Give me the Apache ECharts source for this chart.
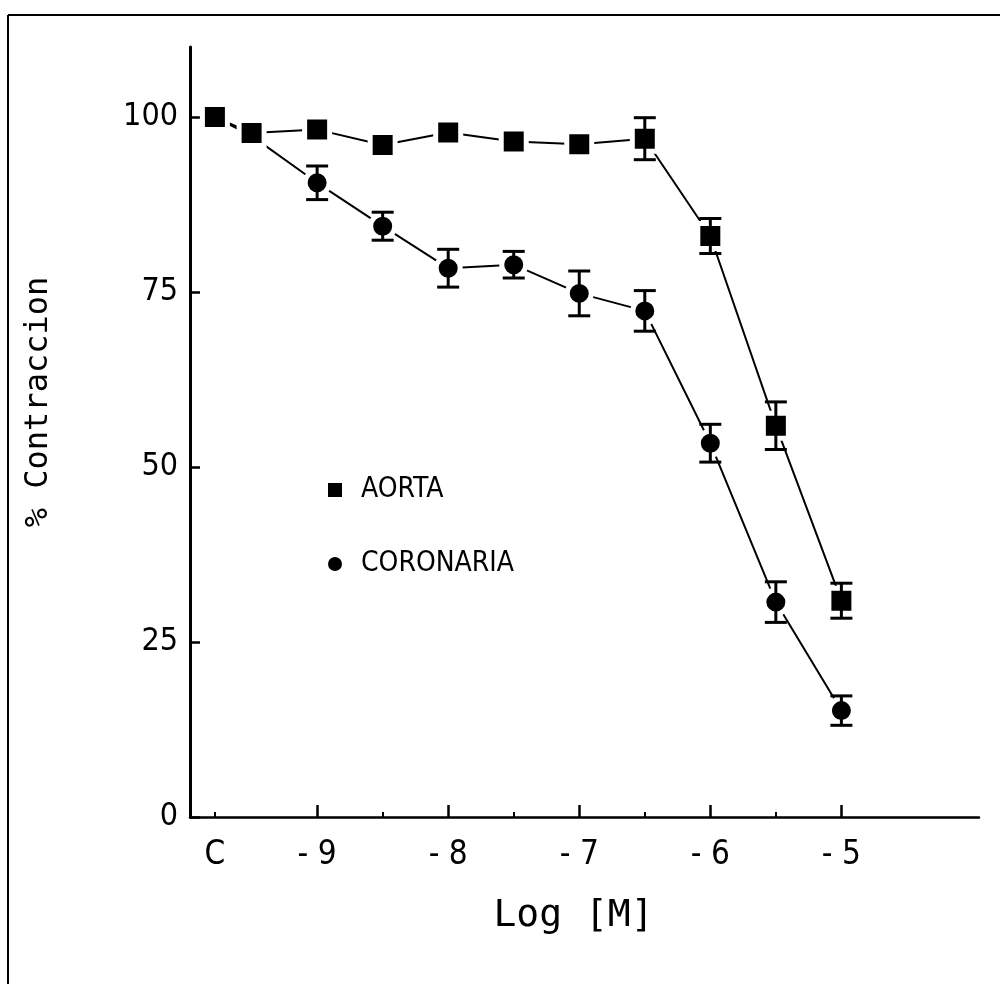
<!DOCTYPE html>
<html>
<head>
<meta charset="utf-8">
<script src="https://cdn.jsdelivr.net/npm/echarts@6/dist/echarts.min.js"></script>
<style>
  html, body { margin: 0; padding: 0; background: #fff; }
  #main { width: 1000px; height: 984px; }
</style>
</head>
<body>
<div id="main"></div>
<script>
// log dose (C = control, plotted left of -9)
const doseX = [-9.78, -9.5, -9, -8.5, -8, -7.5, -7, -6.5, -6, -5.5, -5]
const aorta = [100, 97.7, 98.2, 96.0, 97.8, 96.5, 96.1, 96.9, 83.0, 55.9, 30.9]
const aortaErr = [0, 0, 0, 0, 0, 0, 0, 3.0, 2.5, 3.4, 2.5]
const coronaria = [100, 97.3, 90.6, 84.4, 78.4, 78.9, 74.8, 72.3, 53.4, 30.7, 15.2]
const coronariaErr = [0, 0, 2.4, 2.0, 2.7, 1.9, 3.2, 2.9, 2.7, 2.9, 2.1]

const xLabelValues = [-9.78, -9, -8, -7, -6, -5]
const xTickLabels = ['C', '- 9', '- 8', '- 7', '- 6', '- 5']
const xMajorTicks = [-9, -8, -7, -6, -5]
const xMinorTicks = [-9.78, -8.5, -7.5, -6.5, -5.5]
const yTickValues = [0, 25, 50, 75, 100]

const narrow = "'Liberation Sans Narrow', 'DejaVu Sans Condensed', 'Liberation Sans', sans-serif"
const mono = "'DejaVu Sans Mono', 'Liberation Mono', monospace"

const pairs = (ys) => doseX.map((x, i) => [x, ys[i]])
const errRows = (ys, es) => doseX.map((x, i) => [x, ys[i] - es[i], ys[i] + es[i]]).filter((r, i) => es[i] > 0)

// vertical bar with caps, mean +/- err
function errorBar(params, api) {
  const x = api.value(0)
  const top = api.coord([x, api.value(2)])
  const bot = api.coord([x, api.value(1)])
  const w = 11
  const st = { stroke: '#000', lineWidth: 3 }
  return {
    type: 'group',
    children: [
      { type: 'line', shape: { x1: top[0], y1: top[1], x2: bot[0], y2: bot[1] }, style: st },
      { type: 'line', shape: { x1: top[0] - w, y1: top[1], x2: top[0] + w, y2: top[1] }, style: st },
      { type: 'line', shape: { x1: bot[0] - w, y1: bot[1], x2: bot[0] + w, y2: bot[1] }, style: st }
    ]
  }
}

const chart = echarts.init(document.getElementById('main'))
chart.setOption({
  animation: false,
  backgroundColor: '#fff',
  grid: { left: 190, right: 21, top: 47, bottom: 167, outerBoundsMode: 'none' },
  legend: {
    orient: 'vertical',
    left: 323,
    top: 471,
    itemGap: 46,
    itemWidth: 14,
    itemHeight: 14,
    itemStyle: { borderWidth: 0 },
    textStyle: { fontFamily: narrow, fontSize: 28, color: '#000', padding: [0, 0, 0, 14] },
    data: [
      { name: 'AORTA', icon: 'rect' },
      { name: 'CORONARIA', icon: 'circle' }
    ]
  },
  xAxis: [
    {
      type: 'value',
      min: -9.97,
      max: -3.95,
      name: 'Log [M]',
      nameLocation: 'middle',
      nameGap: 80,
      nameTextStyle: { fontFamily: mono, fontSize: 38, color: '#000', padding: [0, 22, 0, 0] },
      splitLine: { show: false },
      axisLine: { lineStyle: { color: '#000', width: 2.5 } },
      axisTick: { show: true, inside: true, length: 12, lineStyle: { color: '#000', width: 2.5 }, customValues: xMajorTicks },
      axisLabel: {
        margin: 22,
        fontFamily: narrow,
        fontSize: 33,
        color: '#000',
        customValues: xLabelValues,
        formatter: (v) => xTickLabels[xLabelValues.indexOf(v)]
      }
    },
    {
      // minor ticks only
      type: 'value',
      min: -9.97,
      max: -3.95,
      position: 'bottom',
      axisLine: { show: false },
      splitLine: { show: false },
      axisLabel: { show: false },
      axisTick: { show: true, inside: true, length: 5, lineStyle: { color: '#000', width: 2 }, customValues: xMinorTicks }
    }
  ],
  yAxis: {
    type: 'value',
    min: 0,
    max: 110,
    name: '% Contraccion',
    nameLocation: 'middle',
    nameRotate: 90,
    nameGap: 135,
    nameTextStyle: { fontFamily: mono, fontSize: 32, color: '#000', padding: [0, 0, 0, 60] },
    splitLine: { show: false },
    axisLine: { show: true, lineStyle: { color: '#000', width: 3 } },
    axisTick: { show: true, inside: true, length: 10, lineStyle: { color: '#000', width: 2.5 }, customValues: yTickValues },
    axisLabel: { margin: 12, fontFamily: narrow, fontSize: 32, color: '#000', customValues: yTickValues }
  },
  graphic: [
    { type: 'line', shape: { x1: 8, y1: 15, x2: 1000, y2: 15 }, style: { stroke: '#000', lineWidth: 2 } },
    { type: 'line', shape: { x1: 8, y1: 15, x2: 8, y2: 984 }, style: { stroke: '#000', lineWidth: 2 } }
  ],
  series: [
    {
      name: 'CORONARIA',
      type: 'line',
      data: pairs(coronaria),
      symbol: 'circle',
      symbolSize: 24,
      z: 2,
      lineStyle: { color: '#000', width: 2 },
      itemStyle: { color: '#000', borderColor: '#fff', borderWidth: 5 }
    },
    {
      name: 'AORTA',
      type: 'line',
      data: pairs(aorta),
      symbol: 'rect',
      symbolSize: 25,
      z: 3,
      lineStyle: { color: '#000', width: 2 },
      itemStyle: { color: '#000', borderColor: '#fff', borderWidth: 5 }
    },
    {
      type: 'custom',
      renderItem: errorBar,
      data: errRows(coronaria, coronariaErr),
      z: 4
    },
    {
      type: 'custom',
      renderItem: errorBar,
      data: errRows(aorta, aortaErr),
      z: 4
    }
  ]
})
</script>
</body>
</html>
